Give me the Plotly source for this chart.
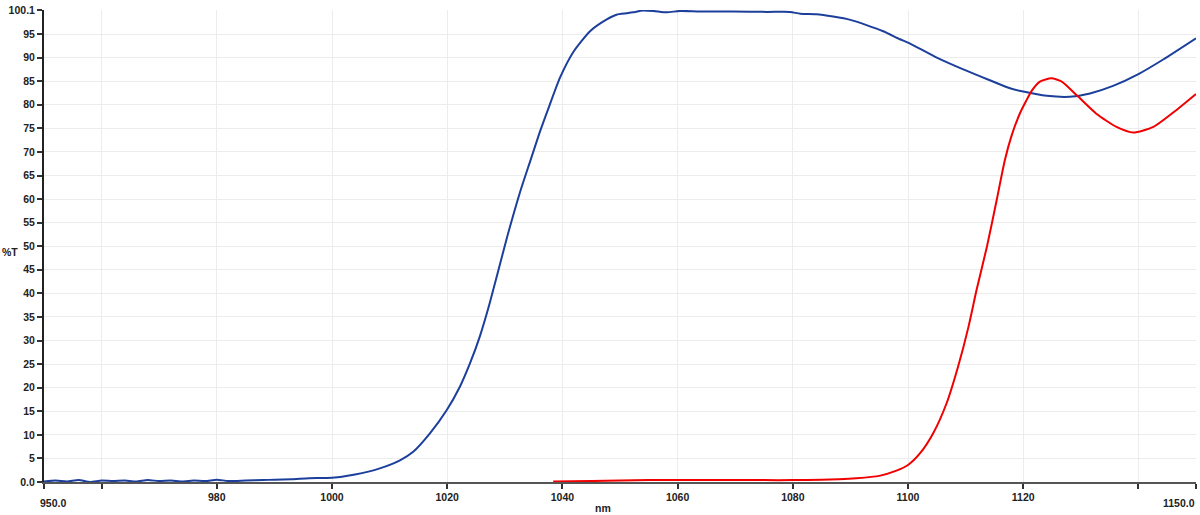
import plotly.graph_objects as go

# blue trace: %T vs wavelength (nm)
blue_nm = [950, 952, 954, 956, 958, 960, 962, 964, 966, 968, 970, 972, 974, 976, 978,
           980, 982, 985, 988, 990, 993, 996, 1000, 1004, 1008.3, 1011.8, 1014.1, 1017,
           1019.9, 1022.2, 1024, 1025.7, 1027.4, 1030.3, 1032.6, 1034.4, 1036.1, 1037.8,
           1039.6, 1041.9, 1044.8, 1047.7, 1049.4, 1051.2, 1052.3, 1054, 1055.8, 1058.1,
           1060.4, 1063.9, 1069.6, 1075.5, 1079.5, 1081.3, 1084.1, 1087, 1090, 1092.8,
           1095.7, 1098.6, 1100, 1105, 1109.6, 1114.2, 1117.7, 1120, 1124.1, 1128.1,
           1131.6, 1135.6, 1140, 1144.3, 1150]
blue_t = [0.1, 0.3, 0.1, 0.4, 0.0, 0.3, 0.2, 0.3, 0.1, 0.4, 0.2, 0.3, 0.1, 0.3, 0.2,
          0.5, 0.2, 0.3, 0.4, 0.5, 0.6, 0.8, 0.9, 1.6, 2.9, 4.6, 6.4, 10.3,
          15.2, 20.2, 25.3, 31.0, 38.0, 51.5, 61.3, 68.0, 74.3, 80.0,
          85.8, 91.2, 95.6, 98.1, 99.1, 99.4, 99.6, 100.0, 99.9, 99.6,
          99.9, 99.8, 99.8, 99.7, 99.7, 99.3, 99.2, 98.7, 98.0, 96.9,
          95.6, 93.9, 93.2, 90.0, 87.5, 85.2, 83.5, 82.8, 81.9, 81.7,
          82.4, 84.0, 86.5, 89.6, 94.1]

# red trace
red_nm = [1038.4, 1045, 1050, 1055, 1060, 1065, 1070, 1075, 1080, 1085, 1088, 1091,
          1095, 1098, 1100, 1102.1, 1104.4, 1106.7, 1108.7, 1110.5, 1111.9, 1113.7,
          1115.4, 1116.8, 1118, 1119.4, 1120.5, 1121.5, 1122.9, 1124.9, 1126.7, 1129.3,
          1132.7, 1136.2, 1139.1, 1142.6, 1146.1, 1150]
red_t = [0.1, 0.2, 0.3, 0.4, 0.4, 0.4, 0.4, 0.4, 0.4, 0.5, 0.6, 0.8,
         1.3, 2.4, 3.6, 6.1, 10.4, 16.7, 24.5, 32.9, 40.7, 49.9,
         59.8, 68.2, 73.5, 78.1, 80.8, 83.0, 84.9, 85.6, 84.9, 82.0,
         78.1, 75.3, 74.1, 75.3, 78.4, 82.3]

x_ticks = [950, 960, 980, 1000, 1020, 1040, 1060, 1080, 1100, 1120, 1140, 1150]
x_labels = ["", "", "980", "1000", "1020", "1040", "1060", "1080", "1100", "1120", "", ""]
y_ticks = [0, 5, 10, 15, 20, 25, 30, 35, 40, 45, 50, 55, 60, 65, 70, 75, 80, 85, 90, 95, 100.1]
y_labels = ["0.0"] + [str(v) for v in y_ticks[1:-1]] + ["100.1"]

tick_font = dict(family="Liberation Sans, Arial", size=10.5, color="#222", weight="bold")

fig = go.Figure()
fig.add_trace(go.Scatter(x=blue_nm, y=blue_t, mode="lines",
                         line=dict(color="#1c3f9c", width=2, shape="spline", smoothing=0.6)))
fig.add_trace(go.Scatter(x=red_nm, y=red_t, mode="lines",
                         line=dict(color="#f00000", width=2, shape="spline", smoothing=0.6)))

fig.update_xaxes(range=[950, 1150], tickvals=x_ticks, ticktext=x_labels, tickfont=tick_font,
                 showgrid=True, gridcolor="#ececec", gridwidth=1, zeroline=False,
                 showline=True, linecolor="#555", linewidth=1.5, automargin=False,
                 ticks="outside", ticklen=5, tickcolor="#333", tickwidth=1.5)
fig.update_yaxes(range=[0, 100.1], tickvals=y_ticks, ticktext=y_labels, tickfont=tick_font,
                 showgrid=True, gridcolor="#ececec", gridwidth=1, zeroline=False,
                 showline=True, linecolor="#222", linewidth=2, automargin=False,
                 ticks="outside", ticklen=5, tickcolor="#333", tickwidth=1.5)

# end labels of the x axis sit inside the plot width, as in the reference
fig.add_annotation(text="950.0", x=950, xref="x", yref="paper", y=-0.028, yanchor="top",
                   xanchor="left", xshift=-6, showarrow=False, font=tick_font)
fig.add_annotation(text="1150.0", x=1150, xref="x", yref="paper", y=-0.028, yanchor="top",
                   xanchor="right", xshift=1, showarrow=False, font=tick_font)

fig.add_annotation(text="nm", xref="paper", yref="paper", x=0.485, y=-0.055, yanchor="middle",
                   showarrow=False, font=tick_font)
fig.add_annotation(text="%T", xref="paper", yref="paper", x=-0.038, y=0.487, xanchor="left",
                   showarrow=False, font=tick_font)

fig.update_layout(width=1200, height=515, margin=dict(l=44, r=4, t=10, b=33),
                  plot_bgcolor="white", paper_bgcolor="white", showlegend=False)
fig.write_html("out.html", config={"displayModeBar": False},
               post_script="document.body.style.margin='0';")
